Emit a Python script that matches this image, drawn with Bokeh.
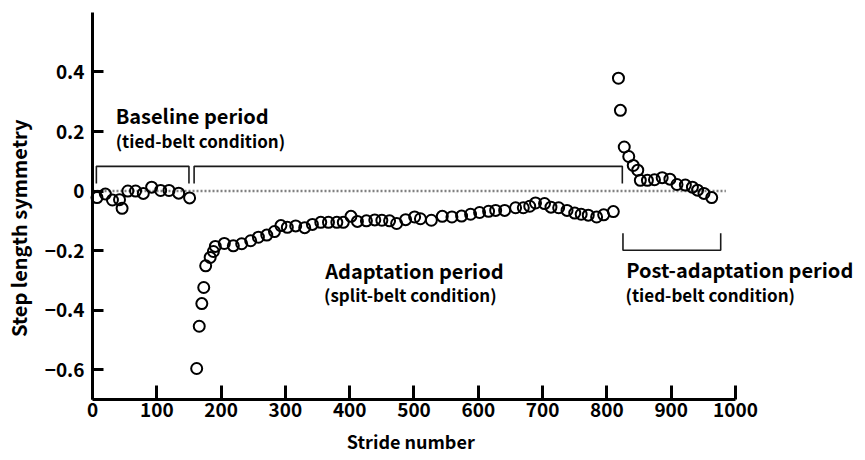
from math import pi
from bokeh.plotting import figure
from bokeh.models import FixedTicker, Label, LinearAxis, Range1d
from bokeh.embed import file_html
from bokeh.resources import INLINE

# Step length symmetry per stride bin, split into the three walking periods
baseline_stride = [7, 20, 31, 42, 46, 55, 67, 79, 92, 106, 119, 134, 151]
baseline_sym = [-0.022, -0.010, -0.030, -0.029, -0.058, 0.000, 0.000, -0.008,
                0.013, 0.002, 0.002, -0.007, -0.023]

adapt_stride = [162, 166, 170, 173, 176, 183, 188, 191, 205, 219, 232, 246, 258,
                271, 283, 293, 303, 316, 330, 342, 355, 367, 380, 390, 402, 412,
                426, 439, 450, 462, 473, 487, 501, 510, 527, 544, 559, 574, 588,
                602, 616, 627, 641, 658, 670, 680, 689, 703, 713, 725, 738, 750,
                760, 771, 784, 795, 810]
adapt_sym = [-0.596, -0.454, -0.378, -0.324, -0.251, -0.223, -0.203, -0.186,
             -0.176, -0.184, -0.177, -0.167, -0.155, -0.148, -0.136, -0.116,
             -0.122, -0.117, -0.123, -0.112, -0.105, -0.105, -0.105, -0.105,
             -0.085, -0.102, -0.100, -0.097, -0.098, -0.100, -0.109, -0.096,
             -0.087, -0.093, -0.098, -0.085, -0.087, -0.084, -0.078, -0.072,
             -0.068, -0.065, -0.065, -0.056, -0.056, -0.051, -0.040, -0.042,
             -0.054, -0.056, -0.065, -0.074, -0.078, -0.081, -0.087, -0.080,
             -0.069]

post_stride = [818, 821, 827, 834, 841, 848, 852, 863, 874, 886, 898, 909, 922,
               933, 941, 951, 963]
post_sym = [0.379, 0.271, 0.148, 0.116, 0.086, 0.070, 0.036, 0.036, 0.038,
            0.045, 0.040, 0.022, 0.020, 0.013, 0.003, -0.008, -0.022]

# Stride spans of each period (start, end)
baseline_span = (6, 150)
adapt_span = (158, 824)
post_span = (825, 977)

x_ticks = [0, 100, 200, 300, 400, 500, 600, 700, 800, 900, 1000]
y_ticks = [-0.6, -0.4, -0.2, 0, 0.2, 0.4]
y_tick_labels = {-0.6: "\u22120.6", -0.4: "\u22120.4", -0.2: "\u22120.2",
                 0: "0", 0.2: "0.2", 0.4: "0.4"}

FONT = "Noto Sans CJK JP"
X_MIN, X_MAX = 0, 1000
Y_MIN, Y_MAX = -0.7, 0.6

# The frame fills the whole canvas; both axes sit at fixed data positions
# so that titles and period labels can be placed freely around them.
p = figure(width=865, height=460, output_backend="svg", toolbar_location=None,
           x_range=Range1d(-143.1, 1202.2), y_range=Range1d(-0.905, 0.640),
           x_axis_location=None, y_axis_location=None,
           min_border_left=0, min_border_right=0, min_border_top=0,
           min_border_bottom=0)
p.outline_line_color = None
p.grid.visible = False
p.background_fill_color = "white"

xaxis = LinearAxis(fixed_location=Y_MIN, bounds=(X_MIN, X_MAX),
                   ticker=FixedTicker(ticks=x_ticks))
yaxis = LinearAxis(fixed_location=X_MIN, bounds=(Y_MIN, Y_MAX),
                   ticker=FixedTicker(ticks=y_ticks),
                   major_label_overrides=y_tick_labels)
for ax in (xaxis, yaxis):
    ax.axis_line_width = 3
    ax.axis_line_color = "black"
    ax.major_tick_line_width = 3
    ax.major_tick_line_color = "black"
    ax.major_tick_out = 0
    ax.minor_tick_line_color = None
    ax.major_label_text_font = FONT
    ax.major_label_text_font_style = "bold"
    ax.major_label_text_font_size = "19px"
    ax.major_label_text_color = "black"
xaxis.major_tick_in = 14
xaxis.major_label_standoff = 4
yaxis.major_tick_in = 11
yaxis.major_label_standoff = 8
p.add_layout(xaxis, "below")
p.add_layout(yaxis, "left")

# axis titles
p.add_layout(Label(x=495, y=-0.838, text="Stride number", text_font=FONT,
                   text_font_style="bold", text_font_size="18px",
                   text_color="black", text_align="center",
                   text_baseline="middle"))
p.add_layout(Label(x=-115, y=-0.125, text="Step length symmetry",
                   angle=pi / 2, text_font=FONT, text_font_style="bold",
                   text_font_size="20px", text_color="black",
                   text_align="center", text_baseline="middle"))

# zero reference line
p.line([0, 985], [0, 0], line_color="#808080", line_width=2.5, line_dash="2 2")

# period brackets
br_top, br_bot = 0.083, 0.025
for s, e in (baseline_span, adapt_span):
    p.line([s, s, e, e], [br_bot, br_top, br_top, br_bot],
           line_color="#1a1a1a", line_width=1.6)
pb_top, pb_bot = -0.142, -0.199
p.line([post_span[0], post_span[0], post_span[1], post_span[1]],
       [pb_top, pb_bot, pb_bot, pb_top], line_color="#1a1a1a", line_width=1.6)

# data points
for xs, ys in ((baseline_stride, baseline_sym), (adapt_stride, adapt_sym),
               (post_stride, post_sym)):
    p.scatter(xs, ys, marker="circle", size=11, fill_alpha=0,
              line_color="black", line_width=2)

def add_text(x, y, text, size):
    p.add_layout(Label(x=x, y=y, text=text, text_font=FONT,
                       text_font_style="bold", text_font_size=size,
                       text_color="black", text_baseline="alphabetic",
                       text_align="left"))

add_text(36, 0.253, "Baseline period", "20px")
add_text(36, 0.169, "(tied-belt condition)", "17px")
add_text(362, -0.267, "Adaptation period", "20px")
add_text(360, -0.346, "(split-belt condition)", "17px")
add_text(830, -0.262, "Post-adaptation period", "20px")
add_text(829, -0.349, "(tied-belt condition)", "17px")

open("out.html", "w").write(file_html(p, INLINE))
